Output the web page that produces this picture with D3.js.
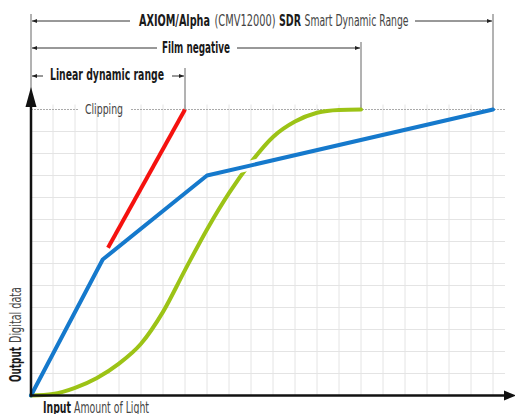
<!DOCTYPE html>
<html>
<head>
<meta charset="utf-8">
<script src="https://cdn.jsdelivr.net/npm/d3@7"></script>
<style>
  body { margin: 0; background: #fff; }
  svg { display: block; }
  text { font-family: 'Liberation Sans Narrow', 'DejaVu Sans Condensed', 'Roboto', sans-serif; font-stretch: condensed; }
</style>
</head>
<body>
<div id="chart"></div>
<script>
// curves (input light units vs output digital units)
const linearRange = [[3.5, 6.72], [7, 13]];
const sdrCurve = [[0, 0], [3.26, 6.18], [8, 10], [21, 13]];
const filmInput = [0, 1, 2, 3, 4, 5, 6, 7, 8, 9, 10, 11, 12, 13, 14, 15];
const filmOutput = [0, 0.07, 0.35, 0.8, 1.45, 2.35, 3.8, 5.7, 7.55, 9.2, 10.6, 11.75, 12.45, 12.85, 12.98, 13];

// dynamic range annotations: end point on the input axis
const rangeEnds = [21, 15, 7];
const clipLevel = 13;

const width = 515, height = 414;

const svg = d3.select('#chart').append('svg')
  .attr('width', width)
  .attr('height', height);

const x = d3.scaleLinear().domain([0, 21]).range([31, 493]);
const y = d3.scaleLinear().domain([0, 13]).range([395.5, 109.5]);

const defs = svg.append('defs');
defs.append('marker')
  .attr('id', 'tip')
  .attr('viewBox', '0 0 10 10')
  .attr('refX', 10).attr('refY', 5)
  .attr('markerWidth', 5).attr('markerHeight', 5)
  .attr('markerUnits', 'userSpaceOnUse')
  .attr('orient', 'auto-start-reverse')
  .append('path').attr('d', 'M0,1L10,5L0,9Z').attr('fill', '#222');

//grid
const grid = svg.append('g');
grid.selectAll('.vx').data(d3.range(1, 22)).enter().append('line')
  .attr('x1', d => x(d)).attr('x2', d => x(d))
  .attr('y1', y(clipLevel) - 5).attr('y2', y(0))
  .attr('stroke', '#e4e4e4').attr('stroke-width', 1);
grid.selectAll('.hy').data(d3.range(1, 13)).enter().append('line')
  .attr('x1', x(0)).attr('x2', 505)
  .attr('y1', d => y(d)).attr('y2', d => y(d))
  .attr('stroke', '#e4e4e4').attr('stroke-width', 1);

//clipping line
svg.append('line')
  .attr('x1', x(0)).attr('x2', 78).attr('y1', y(clipLevel)).attr('y2', y(clipLevel))
  .attr('stroke', '#aaa').attr('stroke-dasharray', '2,1');
svg.append('line')
  .attr('x1', 131).attr('x2', 505).attr('y1', y(clipLevel)).attr('y2', y(clipLevel))
  .attr('stroke', '#aaa').attr('stroke-dasharray', '2,1');

//range annotations
const annY = [21, 48, 76];
const annTop = [14, 42, 68];
rangeEnds.forEach((e, i) => {
  svg.append('line')
    .attr('x1', x(e)).attr('x2', x(e))
    .attr('y1', annTop[i]).attr('y2', y(clipLevel))
    .attr('stroke', '#666').attr('stroke-width', 1);
});
svg.append('line').attr('x1', x(0)).attr('x2', x(0)).attr('y1', 14).attr('y2', 100)
  .attr('stroke', '#666').attr('stroke-width', 1);

const gaps = [[130, 415], [157, 237], [43, 172]];
rangeEnds.forEach((e, i) => {
  svg.append('line')
    .attr('x1', gaps[i][0]).attr('x2', x(0) + 1)
    .attr('y1', annY[i]).attr('y2', annY[i])
    .attr('stroke', '#333').attr('stroke-width', 1)
    .attr('marker-end', 'url(#tip)');
  svg.append('line')
    .attr('x1', gaps[i][1]).attr('x2', x(e) - 1)
    .attr('y1', annY[i]).attr('y2', annY[i])
    .attr('stroke', '#333').attr('stroke-width', 1)
    .attr('marker-end', 'url(#tip)');
});

// each piece: [text, bold, start, length]
function label(g, parts, yp, size) {
  parts.forEach(p => {
    g.append('text')
      .attr('x', p[2]).attr('y', yp)
      .attr('font-size', size)
      .attr('font-weight', p[1] ? 'bold' : 'normal')
      .attr('fill', p[1] ? '#1a1a1a' : '#444')
      .attr('textLength', p[3]).attr('lengthAdjust', 'spacingAndGlyphs')
      .text(p[0]);
  });
}

label(svg, [['AXIOM/Alpha', 1, 139, 71], ['(CMV12000)', 0, 214.5, 61], ['SDR', 1, 279, 22],
  ['Smart Dynamic Range', 0, 304.5, 104]], 26, 16);
label(svg, [['Film negative', 1, 162, 68]], 53, 16);
label(svg, [['Linear dynamic range', 1, 50, 114]], 80, 16);
label(svg, [['Clipping', 0, 85, 38]], 114, 14);

//axis labels
label(svg, [['Input', 1, 43, 28], ['Amount of Light', 0, 74, 75]], 413, 16);
label(svg.append('g').attr('transform', 'translate(21,382) rotate(-90)'),
  [['Output', 1, 0, 35], ['Digital data', 0, 39, 56]], 0, 16);

//curves
const line = d3.line().x(d => x(d[0])).y(d => y(d[1]));
const smooth = d3.line().x(d => x(d[0])).y(d => y(d[1])).curve(d3.curveMonotoneX);
const filmCurve = filmInput.map((v, i) => [v, filmOutput[i]]);

//knock the film curve out where the sdr line crosses it
const mask = defs.append('mask').attr('id', 'knock')
  .attr('maskUnits', 'userSpaceOnUse')
  .attr('x', 0).attr('y', 0).attr('width', width).attr('height', height);
mask.append('rect').attr('width', width).attr('height', height).attr('fill', '#fff');
mask.append('path').attr('d', line(sdrCurve.slice(2)))
  .attr('fill', 'none').attr('stroke', '#000').attr('stroke-width', 10);

svg.append('path')
  .attr('d', smooth(filmCurve))
  .attr('fill', 'none')
  .attr('stroke', '#9cc316')
  .attr('stroke-width', 4)
  .attr('stroke-linecap', 'round')
  .attr('mask', 'url(#knock)');

svg.append('path')
  .attr('d', line(linearRange))
  .attr('fill', 'none')
  .attr('stroke', '#f5120f')
  .attr('stroke-width', 4);

svg.append('path')
  .attr('d', line(sdrCurve))
  .attr('fill', 'none')
  .attr('stroke', '#1579cc')
  .attr('stroke-width', 4)
  .attr('stroke-linejoin', 'round')
  .attr('stroke-linecap', 'round');

//axes
svg.append('line').attr('x1', x(0)).attr('x2', x(0)).attr('y1', y(0) + 1).attr('y2', 100)
  .attr('stroke', '#111').attr('stroke-width', 2.5);
svg.append('path').attr('d', `M${x(0) - 5.5},107L${x(0)},87L${x(0) + 5.5},107Z`).attr('fill', '#111');
svg.append('line').attr('x1', x(0) - 1).attr('x2', 505).attr('y1', y(0)).attr('y2', y(0))
  .attr('stroke', '#111').attr('stroke-width', 2.5);
svg.append('path').attr('d', `M504,${y(0) - 5}L516,${y(0)}L504,${y(0) + 5}Z`).attr('fill', '#111');
</script>
</body>
</html>
